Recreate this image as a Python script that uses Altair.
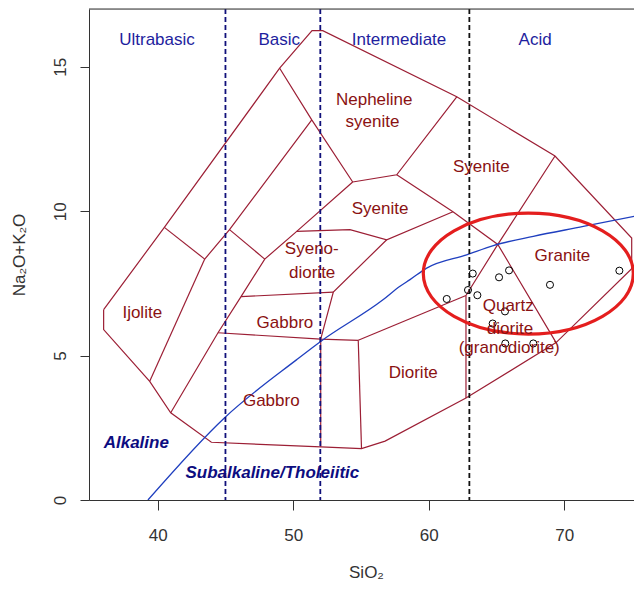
import altair as alt
import pandas as pd

# ---------------- data ----------------
x_ticks = [40, 50, 60, 70]
y_ticks = [0, 5, 10, 15]

# field boundaries (SiO2, Na2O+K2O)
outer = [(36.01, 6.59), (40.49, 9.44), (49.00, 14.95), (51.39, 16.25), (52.18, 16.25),
         (62.07, 13.96), (69.32, 11.91), (74.98, 9.07), (74.98, 8.01), (69.40, 5.45),
         (62.75, 3.53), (56.78, 2.04), (55.04, 1.78), (52.03, 1.84), (43.96, 2.00),
         (40.96, 3.02), (39.41, 4.11), (36.01, 5.90), (36.01, 6.59)]
line_a = [(49.00, 14.95), (51.37, 13.16), (54.39, 11.01)]
line_b = [(51.37, 13.16), (45.30, 9.36), (43.47, 8.34)]
ijolite_top = [(40.49, 9.44), (43.47, 8.34)]
ijolite_right = [(43.47, 8.34), (39.41, 4.11)]
seg_b = [(45.30, 9.36), (47.90, 8.34)]
line_c = [(54.39, 11.01), (50.26, 9.30), (47.90, 8.34), (46.15, 7.04), (44.45, 5.79), (40.96, 3.02)]
neph_base = [(54.39, 11.01), (57.64, 11.26), (62.07, 13.96)]
line_d = [(57.64, 11.26), (61.79, 9.98), (65.10, 8.85), (69.40, 5.45)]
syenite_base = [(50.26, 9.30), (54.19, 9.36), (56.90, 9.01), (61.79, 9.98)]
syenodiorite_right = [(56.90, 9.01), (52.96, 7.20), (52.03, 5.57)]
gabbro_top = [(46.15, 7.04), (52.96, 7.20)]
gabbro_base = [(44.45, 5.79), (52.03, 5.57), (54.80, 5.53)]
v52 = [(52.03, 5.57), (52.03, 1.84)]
diorite_left = [(54.80, 5.53), (55.04, 1.78)]
diorite_top = [(54.80, 5.53), (62.75, 7.08)]
line_e = [(69.32, 11.91), (65.10, 8.85), (62.75, 7.08)]
qd_left = [(62.75, 7.08), (62.75, 3.53)]

# alkaline / subalkaline divide
blue_x = [39.28, 44.94, 50.26, 52.00, 56.65, 57.88, 58.62, 59.85, 62.80, 64.77, 67.72, 71.41, 75.76]
blue_y = [0.00, 2.85, 4.86, 5.48, 6.94, 7.40, 7.63, 8.03, 8.49, 8.81, 9.13, 9.47, 9.88]

# silica divisions
navy_divs = [45, 52]
black_divs = [63]

# samples
sample_x = [61.33, 62.90, 63.25, 63.59, 65.19, 65.93, 68.95, 74.07, 65.63, 64.72, 65.65, 67.72]
sample_y = [6.96, 7.27, 7.84, 7.09, 7.71, 7.95, 7.45, 7.94, 6.53, 6.11, 5.42, 5.42]

# highlighted ellipse centre
ellipse_x = [67.35]
ellipse_y = [7.84]

group_names = ["Ultrabasic", "Basic", "Intermediate", "Acid"]
group_x = [39.95, 48.97, 57.81, 67.85]
group_y = [15.92, 15.92, 15.92, 15.92]

rock_names = ["Nepheline", "syenite", "Syenite", "Syenite", "Syeno-", "diorite", "Gabbro",
              "Ijolite", "Gabbro", "Diorite", "Granite", "Quartz", "diorite", "(granodiorite)"]
rock_x = [55.98, 55.85, 63.88, 56.41, 51.37, 51.40, 49.39, 38.86, 48.38, 58.86, 69.87, 65.87, 66.00, 65.94]
rock_y = [13.86, 13.10, 11.52, 10.09, 8.70, 7.86, 6.13, 6.48, 3.42, 4.41, 8.46, 6.70, 5.93, 5.28]

series_names = ["Alkaline", "Subalkaline/Tholeiitic"]
series_x = [38.42, 48.46]
series_y = [1.98, 0.95]

# ---------------- tables ----------------
boundary_list = [("outer", outer), ("a", line_a), ("b", line_b), ("ijt", ijolite_top),
                 ("ijr", ijolite_right), ("sb", seg_b), ("c", line_c), ("nb", neph_base),
                 ("d", line_d), ("syb", syenite_base), ("sdr", syenodiorite_right),
                 ("gt", gabbro_top), ("gb", gabbro_base), ("v52", v52), ("dl", diorite_left),
                 ("dt", diorite_top), ("e", line_e), ("qdl", qd_left)]
bdf = pd.DataFrame([{"seg": n, "ord": i, "x": p[0], "y": p[1]}
                    for n, pts in boundary_list for i, p in enumerate(pts)])
blue_df = pd.DataFrame({"x": blue_x, "y": blue_y, "ord": range(len(blue_x))})
samples = pd.DataFrame({"x": sample_x, "y": sample_y})
ell = pd.DataFrame({"x": ellipse_x, "y": ellipse_y})
groups = pd.DataFrame({"t": group_names, "x": group_x, "y": group_y})
rocks = pd.DataFrame({"t": rock_names, "x": rock_x, "y": rock_y})
series = pd.DataFrame({"t": series_names, "x": series_x, "y": series_y})

FONT = "Liberation Sans, Arial, Helvetica, sans-serif"
AX = "#333333"

xs = alt.Scale(domain=[34.93, 75.15], nice=False, zero=False)
ys = alt.Scale(domain=[0, 17.0], nice=False, zero=False)

x_axis = alt.Axis(values=x_ticks, grid=False, tickSize=10, tickColor=AX, domainColor=AX,
                  labelFont=FONT, labelFontSize=17, labelColor=AX, labelPadding=25,
                  labelBaseline="middle", labelAngle=0,
                  title="SiO₂", titleFont=FONT, titleFontSize=17, titleFontWeight="normal",
                  titleColor=AX, titleX=277, titleY=72, titleBaseline="middle", titleAlign="center")
y_axis = alt.Axis(values=y_ticks, grid=False, tickSize=9, tickColor=AX, domainColor=AX,
                  labelFont=FONT, labelFontSize=17, labelColor=AX, labelAngle=270,
                  labelAlign="center", labelBaseline="middle", labelPadding=20,
                  title="Na₂O+K₂O", titleFont=FONT, titleFontSize=17, titleFontWeight="normal",
                  titleColor=AX, titleAngle=270, titleX=-70, titleY=245.5,
                  titleAlign="center", titleBaseline="middle")


def X(field="x"):
    return alt.X(f"{field}:Q", scale=xs, axis=x_axis)


def Y(field="y"):
    return alt.Y(f"{field}:Q", scale=ys, axis=y_axis)


boundaries = alt.Chart(bdf).mark_line(color="#9c1f35", strokeWidth=1.2, clip=True).encode(
    x=X(), y=Y(), detail="seg:N", order="ord:Q")

blue = alt.Chart(blue_df).mark_line(color="#1f3fbf", strokeWidth=1.3, clip=True,
                                    interpolate="monotone").encode(x=X(), y=Y(), order="ord:Q")

navy_rules = alt.Chart(pd.DataFrame({"v": navy_divs})).mark_rule(
    color="#10107a", strokeDash=[5, 3], strokeWidth=1.8).encode(x=X("v"))
black_rules = alt.Chart(pd.DataFrame({"v": black_divs})).mark_rule(
    color="#111111", strokeDash=[5, 3], strokeWidth=1.8).encode(x=X("v"))

top_frame = alt.Chart(pd.DataFrame({"v": [17.0]})).mark_rule(
    color=AX, strokeWidth=1).encode(y=Y("v"))

ellipse = alt.Chart(ell).mark_point(
    shape="M -1 0 A 1 0.576 0 1 1 1 0 A 1 0.576 0 1 1 -1 0 Z",
    filled=False, stroke="#e41e1e", strokeWidth=3.2, size=44100, opacity=1).encode(x=X(), y=Y())

pts = alt.Chart(samples).mark_point(shape="circle", filled=False, color="black",
                                    strokeWidth=1, size=50, opacity=1).encode(x=X(), y=Y())

group_txt = alt.Chart(groups).mark_text(font=FONT, fontSize=17, color="#1e1e9e",
                                        baseline="middle", align="center").encode(
    x=X(), y=Y(), text="t:N")
rock_txt = alt.Chart(rocks).mark_text(font=FONT, fontSize=17, color="#8a1212",
                                      baseline="middle", align="center").encode(
    x=X(), y=Y(), text="t:N")
series_txt = alt.Chart(series).mark_text(font=FONT, fontSize=17, color="#0d0d80",
                                         fontStyle="italic", fontWeight="bold",
                                         baseline="middle", align="center").encode(
    x=X(), y=Y(), text="t:N")

chart = alt.layer(boundaries, blue, navy_rules, black_rules, top_frame, ellipse, pts,
                  group_txt, rock_txt, series_txt).properties(
    width=545, height=491,
    autosize=alt.AutoSizeParams(type="none"),
    padding={"left": 81, "top": 1, "right": 0, "bottom": 80},
).configure_view(stroke=None).configure(background="white")

chart.save("out.html", embed_options={"renderer": "svg", "actions": False})
